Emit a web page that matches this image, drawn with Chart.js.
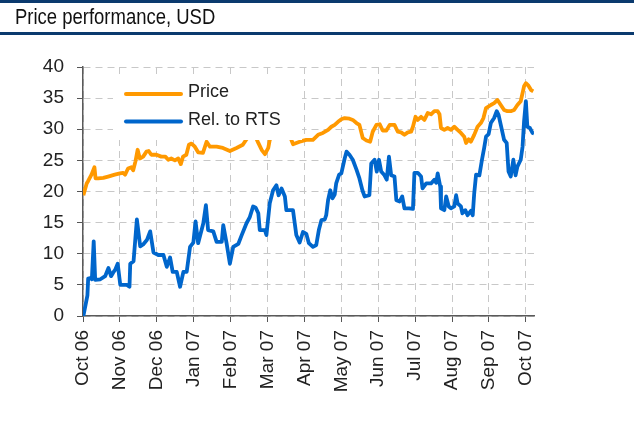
<!DOCTYPE html>
<html>
<head>
<meta charset="utf-8">
<script src="https://cdn.jsdelivr.net/npm/chart.js@4/dist/chart.umd.min.js"></script>
<style>
  body { margin: 0; background: #fff; }
  #wrap { position: relative; width: 634px; height: 427px; overflow: hidden; }
  .bar { position: absolute; left: 0; width: 634px; height: 3px; background: #0b3a6e; }
  #title { position: absolute; left: 15px; top: 5px; font: 22px/24px "Liberation Sans", Arial, sans-serif; color: #111;
    transform: scaleX(0.84); transform-origin: 0 0; white-space: nowrap; }
  canvas { position: absolute; left: 0; top: 0; }
</style>
</head>
<body>
<div id="wrap">
  <canvas id="chart" width="634" height="427"></canvas>
  <div class="bar" style="top:0"></div>
  <div id="title">Price performance, USD</div>
  <div class="bar" style="top:32px"></div>
</div>
<script>
// month ticks, 0 = Oct 06
var monthLabels = ['Oct 06', 'Nov 06', 'Dec 06', 'Jan 07', 'Feb 07', 'Mar 07', 'Apr 07',
  'May 07', 'Jun 07', 'Jul 07', 'Aug 07', 'Sep 07', 'Oct 07'];

// Price, USD (x in months since start of Oct 06)
var priceMonth = [0.01, 0.10, 0.14, 0.23, 0.31, 0.34, 0.41, 0.55, 0.68, 0.86, 1.00, 1.09, 1.14, 1.22, 1.31, 1.36,
  1.42, 1.48, 1.54, 1.63, 1.72, 1.78, 1.85, 1.99, 2.12, 2.23, 2.31, 2.39, 2.49, 2.58, 2.65, 2.71, 2.80, 2.87,
  2.94, 3.03, 3.12, 3.25, 3.35, 3.44, 3.62, 3.79, 3.98, 4.16, 4.33, 4.43, 4.55, 4.66, 4.75, 4.84, 4.93, 5.02,
  5.06, 5.20, 5.33, 5.47, 5.60, 5.69, 5.78, 5.87, 6.05, 6.23, 6.37, 6.50, 6.64, 6.73, 6.82, 6.91, 7.00, 7.09,
  7.22, 7.31, 7.41, 7.49, 7.58, 7.68, 7.78, 7.85, 7.95, 8.04, 8.12, 8.22, 8.31, 8.44, 8.53, 8.62, 8.71, 8.80,
  8.89, 8.94, 9.01, 9.07, 9.16, 9.25, 9.34, 9.43, 9.52, 9.61, 9.66, 9.70, 9.79, 9.88, 9.97, 10.06, 10.15,
  10.24, 10.33, 10.38, 10.45, 10.51, 10.60, 10.69, 10.78, 10.85, 10.92, 11.05, 11.14, 11.23, 11.32, 11.41,
  11.50, 11.59, 11.68, 11.77, 11.86, 11.95, 12.00, 12.07, 12.14, 12.20];
var priceUsd = [19.4, 21.3, 21.7, 22.7, 23.9, 22.1, 22.1, 22.2, 22.4, 22.7, 22.9, 23.0, 22.7, 23.7, 23.9, 23.4,
  24.8, 26.7, 25.3, 25.6, 26.4, 26.5, 25.9, 25.9, 25.6, 25.6, 25.1, 25.3, 25.0, 25.3, 24.4, 25.6, 25.9, 27.5,
  27.7, 27.2, 26.3, 26.2, 28.0, 27.2, 27.2, 27.0, 26.5, 27.0, 27.5, 28.4, 29.2, 29.0, 27.8, 26.7, 26.0, 27.0,
  28.3, 29.3, 29.0, 29.4, 29.0, 27.6, 27.8, 28.0, 28.3, 28.3, 29.1, 29.4, 29.9, 30.4, 30.7, 31.2, 31.6, 31.8,
  31.7, 31.5, 31.0, 30.7, 28.6, 28.2, 28.0, 29.6, 30.7, 30.8, 29.8, 29.8, 30.7, 30.7, 29.6, 29.5, 29.1, 29.5,
  29.6, 30.4, 32.0, 31.5, 32.0, 31.5, 32.6, 32.4, 32.9, 32.9, 32.4, 30.2, 29.9, 30.2, 29.9, 30.4, 29.9,
  29.4, 28.8, 27.8, 28.4, 28.0, 29.1, 30.4, 31.0, 31.8, 33.4, 33.9, 34.2, 34.7, 33.9, 33.1,
  32.9, 32.9, 33.1, 33.9, 34.5, 36.9, 37.4, 37.0, 36.3, 36.1];

// Relative to RTS index
var relMonth = [0.01, 0.12, 0.14, 0.20, 0.24, 0.29, 0.33, 0.47, 0.60, 0.69, 0.76, 0.82, 0.87, 0.94, 1.01, 1.19,
  1.26, 1.28, 1.37, 1.46, 1.55, 1.63, 1.73, 1.82, 1.91, 2.04, 2.18, 2.27, 2.36, 2.43, 2.54, 2.63, 2.72, 2.81,
  2.90, 2.99, 3.05, 3.12, 3.26, 3.33, 3.39, 3.53, 3.62, 3.76, 3.80, 3.89, 3.98, 4.07, 4.21, 4.30, 4.43, 4.52,
  4.61, 4.68, 4.75, 4.79, 4.93, 4.97, 5.06, 5.15, 5.24, 5.30, 5.38, 5.47, 5.51, 5.69, 5.78, 5.87, 5.96, 6.05,
  6.12, 6.23, 6.32, 6.39, 6.46, 6.55, 6.59, 6.64, 6.70, 6.76, 6.82, 6.86, 6.94, 7.00, 7.09, 7.14, 7.22, 7.31,
  7.41, 7.49, 7.57, 7.63, 7.76, 7.81, 7.90, 7.96, 8.02, 8.08, 8.17, 8.23, 8.29, 8.35, 8.44, 8.49, 8.58, 8.65,
  8.71, 8.84, 8.94, 8.98, 9.07, 9.16, 9.20, 9.30, 9.43, 9.52, 9.57, 9.61, 9.68, 9.70, 9.79, 9.84, 9.91, 9.97,
  10.06, 10.11, 10.15, 10.24, 10.28, 10.36, 10.42, 10.51, 10.56, 10.60, 10.65, 10.74, 10.81, 10.87, 10.92,
  10.99, 11.05, 11.14, 11.21, 11.26, 11.32, 11.41, 11.48, 11.53, 11.59, 11.66, 11.72, 11.77, 11.86, 11.91,
  11.95, 12.00, 12.04, 12.11, 12.18, 12.22];
var relValue = [0.0, 3.3, 6.0, 6.1, 5.9, 12.0, 5.8, 5.9, 6.4, 7.7, 6.4, 7.0, 7.4, 8.4, 5.0, 5.0,
  4.7, 8.4, 8.8, 15.5, 11.2, 11.5, 12.2, 13.6, 10.2, 9.8, 9.8, 7.9, 9.4, 7.1, 7.1, 4.7, 7.1, 7.1,
  11.1, 11.8, 15.2, 11.7, 14.9, 17.8, 13.8, 13.6, 11.9, 11.9, 14.6, 11.7, 8.4, 11.1, 11.6, 13.0, 14.9, 15.9,
  17.6, 17.4, 16.5, 13.8, 13.8, 13.0, 18.1, 20.2, 21.0, 19.4, 20.5, 19.2, 17.0, 17.0, 13.0, 11.8, 13.5, 13.2,
  11.7, 11.1, 11.4, 13.8, 15.4, 15.5, 16.2, 18.6, 20.2, 18.9, 19.5, 21.3, 22.7, 22.9, 25.3, 26.4, 25.9, 25.1,
  23.5, 22.1, 20.2, 19.2, 19.4, 24.5, 25.1, 23.2, 25.1, 23.2, 22.6, 21.9, 25.6, 22.6, 22.4, 18.6, 18.4, 19.2,
  17.3, 17.3, 17.2, 23.0, 23.0, 22.4, 20.5, 21.3, 21.3, 21.9, 21.4, 22.9, 20.8, 17.3, 17.0, 19.2, 17.6, 17.3,
  17.6, 19.4, 18.1, 17.6, 16.5, 17.0, 16.2, 16.9, 16.2, 19.7, 22.7, 22.6, 25.1, 27.0, 28.8,
  29.2, 31.0, 31.8, 32.9, 32.3, 30.7, 28.3, 27.8, 23.2, 22.4, 25.1, 22.6, 24.0, 25.1, 27.2,
  31.2, 34.5, 30.4, 30.2, 29.4, 29.3];

function toPoints(xs, ys) {
  var pts = [];
  for (var i = 0; i < xs.length; i++) pts.push({ x: xs[i], y: ys[i] });
  return pts;
}

// legend drawn in a white box inside the plot (hides the line under it, like the original)
var boxLegend = {
  id: 'boxLegend',
  afterDatasetsDraw: function (chart) {
    var ctx = chart.ctx;
    ctx.save();
    ctx.fillStyle = '#fff';
    ctx.fillRect(113, 75, 189, 65);
    ctx.font = '18px "Liberation Sans", Arial, sans-serif';
    ctx.textBaseline = 'middle';
    chart.data.datasets.forEach(function (ds, i) {
      var y = 94 + i * 27.5;
      ctx.strokeStyle = ds.borderColor;
      ctx.lineWidth = 4;
      ctx.lineCap = 'round';
      ctx.beginPath();
      ctx.moveTo(126, y);
      ctx.lineTo(181, y);
      ctx.stroke();
      ctx.fillStyle = '#222';
      ctx.fillText(ds.label, 188, y - 1.5);
    });
    ctx.restore();
  }
};

Chart.defaults.font.family = '"Liberation Sans", Arial, sans-serif';
Chart.defaults.color = '#222';

var gridOpts = {
  color: '#c8c8c8',
  lineWidth: 1,
  tickColor: '#555',
  tickLength: 6,
  tickBorderDash: [0, 0]
};
var borderOpts = { color: '#5a5a5a', width: 1.5, dash: [7, 5] };

new Chart(document.getElementById('chart'), {
  type: 'line',
  data: {
    datasets: [
      {
        label: 'Price',
        data: toPoints(priceMonth, priceUsd),
        borderColor: '#ff9900',
        borderWidth: 3.8,
        pointRadius: 0,
        tension: 0,
        borderJoinStyle: 'round'
      },
      {
        label: 'Rel. to RTS',
        data: toPoints(relMonth, relValue),
        borderColor: '#0066cc',
        borderWidth: 3.8,
        pointRadius: 0,
        tension: 0,
        borderJoinStyle: 'round'
      }
    ]
  },
  options: {
    responsive: false,
    animation: false,
    layout: { padding: { left: 0, top: 67, right: 100, bottom: 0 } },
    plugins: { legend: { display: false }, tooltip: { enabled: false } },
    scales: {
      x: {
        type: 'linear',
        min: 0,
        max: 12.22,
        afterBuildTicks: function (scale) {
          scale.ticks = monthLabels.map(function (l, i) { return { value: i }; });
        },
        afterFit: function (scale) { scale.height = 111; },
        ticks: {
          autoSkip: false,
          maxRotation: 90,
          minRotation: 90,
          padding: 8,
          font: { size: 19 },
          callback: function (v) { return monthLabels[v]; }
        },
        grid: gridOpts,
        border: borderOpts
      },
      y: {
        min: 0,
        max: 40,
        afterFit: function (scale) { scale.width = 83; },
        ticks: { stepSize: 5, padding: 13, font: { size: 19 } },
        grid: gridOpts,
        border: borderOpts
      }
    }
  },
  plugins: [boxLegend]
});
</script>
</body>
</html>
